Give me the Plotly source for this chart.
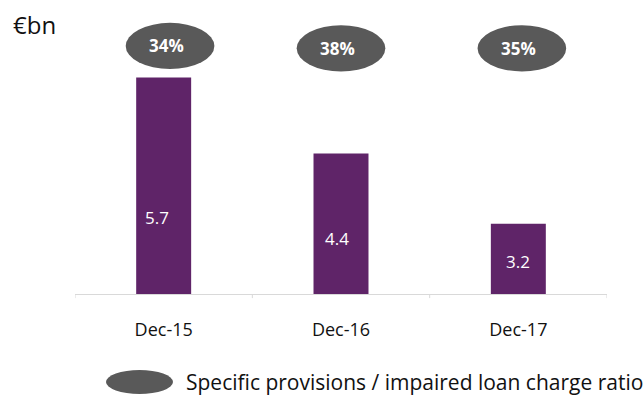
import plotly.graph_objects as go

# Impaired loan stock (EUR bn) and coverage ratio per year end
categories = ["Dec-15", "Dec-16", "Dec-17"]
stock_bn = [5.7, 4.4, 3.2]
ratio_labels = ["34%", "38%", "35%"]
legend_label = "Specific provisions / impaired loan charge ratio"
unit_label = "€bn"

BAR_COLOR = "#5f2468"
BUBBLE_COLOR = "#595959"
AXIS_COLOR = "#d9d9d9"
FONT = "Open Sans"

Y_MIN, Y_MAX = 2.0, 6.684

fig = go.Figure()
fig.add_trace(go.Bar(
    x=list(range(len(categories))),
    y=stock_bn,
    width=0.31,
    marker=dict(color=BAR_COLOR, line=dict(width=0)),
    hoverinfo="skip",
))

# value labels inside the bars
label_heights = [3.316, 2.957, 2.564]
label_xshift = [-7, -4, 0]
for i, (v, h, dx) in enumerate(zip(stock_bn, label_heights, label_xshift)):
    fig.add_annotation(x=i, y=h, xshift=dx, text=f"{v:.1f}", showarrow=False,
                       font=dict(family=FONT, size=17, color="white"))

# ratio bubbles above the bars
bubble_shift = [0.036, 0.0, 0.02]
bubble_y = [6.24, 6.20, 6.20]
for i, (lbl, dx, cy) in enumerate(zip(ratio_labels, bubble_shift, bubble_y)):
    cx = i + dx
    fig.add_shape(type="circle", xref="x", yref="y",
                  x0=cx - 0.25, x1=cx + 0.25, y0=cy - 0.395, y1=cy + 0.395,
                  fillcolor=BUBBLE_COLOR, line=dict(width=0))
    fig.add_annotation(x=cx - 0.02, y=cy, text=f"<b>{lbl}</b>", showarrow=False,
                       font=dict(family=FONT, size=17, color="white"))

# legend key
fig.add_shape(type="circle", xref="paper", yref="paper",
              x0=0.0583, x1=0.1842, y0=-0.365, y1=-0.2774,
              fillcolor=BUBBLE_COLOR, line=dict(width=0))
fig.add_annotation(xref="paper", yref="paper", x=0.204, y=-0.321,
                   xanchor="left", yanchor="middle", text=legend_label,
                   showarrow=False, font=dict(family=FONT, size=21, color="#111"))

# unit label
fig.add_annotation(xref="paper", yref="paper", x=-0.121, y=0.985,
                   xanchor="left", yanchor="middle", text=unit_label,
                   showarrow=False, font=dict(family=FONT, size=24, color="#111"))

fig.update_layout(
    width=643, height=395,
    margin=dict(l=75, r=36, t=20, b=101),
    paper_bgcolor="white", plot_bgcolor="white",
    showlegend=False,
    font=dict(family=FONT, color="#111"),
    xaxis=dict(
        range=[-0.5, 2.5],
        tickmode="array", tickvals=list(range(len(categories))), ticktext=categories,
        showline=True, linecolor=AXIS_COLOR, linewidth=1,
        ticks="", showgrid=False, zeroline=False,
        tickfont=dict(family=FONT, size=18, color="#111"),
        ticklabelstandoff=19,
    ),
    yaxis=dict(range=[Y_MIN, Y_MAX], visible=False),
)

# boundary tick marks under the axis line
for b in [-0.5, 0.5, 1.5, 2.5]:
    fig.add_shape(type="line", xref="x", yref="paper", x0=b, x1=b, y0=0, y1=-0.015,
                  line=dict(color=AXIS_COLOR, width=1))

fig.write_html("out.html")
